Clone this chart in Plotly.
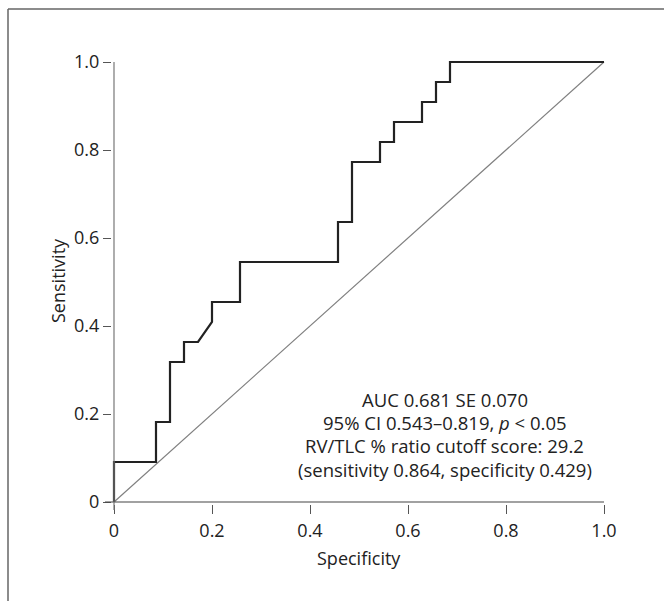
import plotly.graph_objects as go

# ROC curve data (x axis labelled "Specificity" as in the original)
spec = [0, 0, 3/35, 3/35, 4/35, 4/35, 5/35, 5/35, 6/35, 7/35, 7/35, 9/35, 9/35,
        16/35, 16/35, 17/35, 17/35, 19/35, 19/35, 20/35, 20/35, 22/35, 22/35,
        23/35, 23/35, 24/35, 24/35, 1.0]
sens = [0, 2/22, 2/22, 4/22, 4/22, 7/22, 7/22, 8/22, 8/22, 9/22, 10/22, 10/22, 12/22,
        12/22, 14/22, 14/22, 17/22, 17/22, 18/22, 18/22, 19/22, 19/22, 20/22,
        20/22, 21/22, 21/22, 1.0, 1.0]
diag_x = [0, 1]
diag_y = [0, 1]
tick_vals = [0, 0.2, 0.4, 0.6, 0.8, 1.0]
tick_text = ["0", "0.2", "0.4", "0.6", "0.8", "1.0"]
stats_lines = ["AUC 0.681 SE 0.070",
               "95% CI 0.543–0.819, <i>p</i> < 0.05",
               "RV/TLC % ratio cutoff score: 29.2",
               "(sensitivity 0.864, specificity 0.429)"]
stats_y = [0.234, 0.180, 0.128, 0.075]

W, H = 664, 601
L, T = 112, 60
PW, PH = 494, 444
X0, X1 = 114, 604
Y0, Y1 = 502, 62
ux = (X1 - X0)
uy = (Y0 - Y1)
xr = [-(X0 - L) / ux, 1 + (L + PW - X1) / ux]
yr = [-(T + PH - Y0) / uy, 1 + (Y1 - T) / uy]

def px(p):
    return (p - L) / PW

def py(p):
    return (T + PH - p) / PH

FONT = "Open Sans"
TXT = "#222222"

fig = go.Figure()
fig.add_trace(go.Scatter(x=diag_x, y=diag_y, mode="lines",
                         line=dict(color="#808080", width=1.2), hoverinfo="skip"))
fig.add_trace(go.Scatter(x=spec, y=sens, mode="lines",
                         line=dict(color="#222222", width=2.2), hoverinfo="skip"))

axis_common = dict(showgrid=False, zeroline=False, showline=False,
                   ticks="outside", tickwidth=1, tickcolor="#555555",
                   tickvals=tick_vals, ticktext=tick_text,
                   tickfont=dict(family=FONT, size=18, color=TXT))
fig.update_xaxes(range=xr, ticklen=9, ticklabelstandoff=1, **axis_common)
fig.update_yaxes(range=yr, ticklen=8, **axis_common)

shapes = [
    # x axis line (extends left past origin)
    dict(type="line", xref="paper", yref="paper", x0=px(105), x1=px(X1),
         y0=py(Y0), y1=py(Y0), line=dict(color="#444444", width=1.2)),
    # y axis line (extends below origin)
    dict(type="line", xref="paper", yref="paper", x0=px(X0), x1=px(X0),
         y0=py(510), y1=py(Y1), line=dict(color="#777777", width=1.2)),
    # outer frame (open at right and bottom)
    dict(type="line", xref="paper", yref="paper", x0=px(8), x1=px(700),
         y0=py(9), y1=py(9), line=dict(color="#666666", width=1.5)),
    dict(type="line", xref="paper", yref="paper", x0=px(8), x1=px(8),
         y0=py(9), y1=py(640), line=dict(color="#666666", width=1.5)),
]

annotations = []
for t, yv in zip(stats_lines, stats_y):
    annotations.append(dict(x=0.6755, y=yv, xref="x", yref="y", text=t,
                            showarrow=False, xanchor="center", yanchor="middle",
                            font=dict(family=FONT, size=18.5, color=TXT)))
annotations.append(dict(x=px(359), y=py(558), xref="paper", yref="paper",
                        text="Specificity", showarrow=False,
                        xanchor="center", yanchor="middle",
                        font=dict(family=FONT, size=18, color=TXT)))
annotations.append(dict(x=px(58), y=py(281), xref="paper", yref="paper",
                        text="Sensitivity", showarrow=False, textangle=-90,
                        xanchor="center", yanchor="middle",
                        font=dict(family=FONT, size=18, color=TXT)))

fig.update_layout(width=W, height=H, showlegend=False,
                  margin=dict(l=L, r=W - L - PW, t=T, b=H - T - PH, pad=0),
                  paper_bgcolor="white", plot_bgcolor="white",
                  shapes=shapes, annotations=annotations)

fig.write_html("out.html")
